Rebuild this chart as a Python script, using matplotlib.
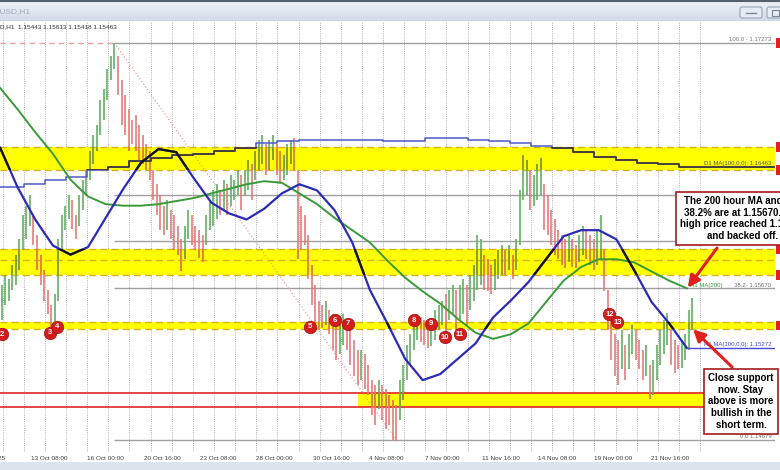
import numpy as np
import matplotlib
matplotlib.use("Agg")
import matplotlib.pyplot as plt
from matplotlib.collections import LineCollection
from matplotlib.path import Path
from matplotlib.patches import FancyBboxPatch

plt.rcParams['font.family'] = ['Liberation Sans', 'DejaVu Sans']

# ---- data (EURUSD H1) ----
# 4-hour blocks of H1 bars: high / low
highs = [1.1569, 1.1576, 1.1573, 1.1582, 1.1589, 1.1599, 1.1615, 1.1621, 1.1628, 1.1615,
         1.1602, 1.1589, 1.1579, 1.1566, 1.1556, 1.1563, 1.1599, 1.1615, 1.1621, 1.1628,
         1.1625, 1.1615, 1.1628, 1.1638, 1.1644, 1.1657, 1.1667, 1.1674, 1.1690, 1.1697,
         1.1710, 1.1719, 1.1727, 1.1719, 1.1703, 1.1693, 1.1684, 1.1677, 1.1680, 1.1674,
         1.1667, 1.1661, 1.1657, 1.1644, 1.1635, 1.1628, 1.1621, 1.1625, 1.1618, 1.1615,
         1.1608, 1.1599, 1.1608, 1.1618, 1.1615, 1.1608, 1.1605, 1.1602, 1.1615, 1.1625,
         1.1631, 1.1635, 1.1631, 1.1638, 1.1635, 1.1641, 1.1638, 1.1644, 1.1641, 1.1644,
         1.1651, 1.1648, 1.1657, 1.1664, 1.1667, 1.1661, 1.1664, 1.1667, 1.1661, 1.1657,
         1.1654, 1.1661, 1.1664, 1.1665, 1.1644, 1.1621, 1.1615, 1.1602, 1.1582, 1.1569,
         1.1559, 1.1556, 1.1559, 1.1553, 1.1550, 1.1546, 1.1543, 1.1550, 1.1546, 1.1540,
         1.1533, 1.1527, 1.1527, 1.1524, 1.1517, 1.1507, 1.1504, 1.1507, 1.1504, 1.1501,
         1.1497, 1.1494, 1.1491, 1.1507, 1.1517, 1.1530, 1.1537, 1.1546, 1.1550, 1.1548,
         1.1546, 1.1543, 1.1546, 1.1553, 1.1556, 1.1559, 1.1563, 1.1566, 1.1569, 1.1566,
         1.1569, 1.1573, 1.1569, 1.1576, 1.1582, 1.1602, 1.1599, 1.1589, 1.1586, 1.1582,
         1.1586, 1.1592, 1.1595, 1.1592, 1.1595, 1.1589, 1.1599, 1.1631, 1.1654, 1.1651,
         1.1644, 1.1641, 1.1648, 1.1652, 1.1635, 1.1628, 1.1618, 1.1612, 1.1605, 1.1602,
         1.1599, 1.1602, 1.1599, 1.1595, 1.1602, 1.1608, 1.1605, 1.1602, 1.1599, 1.1605,
         1.1615, 1.1592, 1.1566, 1.1546, 1.1537, 1.1533, 1.1540, 1.1530, 1.1537, 1.1543,
         1.1540, 1.1533, 1.1527, 1.1530, 1.1517, 1.1520, 1.1530, 1.1540, 1.1546, 1.1551,
         1.1540, 1.1533, 1.1530, 1.1533, 1.1537, 1.1553, 1.1561]
lows = [1.1546, 1.1556, 1.1559, 1.1566, 1.1569, 1.1579, 1.1592, 1.1599, 1.1608, 1.1595,
        1.1579, 1.1569, 1.1559, 1.1550, 1.1539, 1.1543, 1.1559, 1.1592, 1.1605, 1.1612,
        1.1606, 1.1599, 1.1608, 1.1618, 1.1628, 1.1638, 1.1648, 1.1657, 1.1667, 1.1677,
        1.1690, 1.1703, 1.1710, 1.1693, 1.1674, 1.1667, 1.1657, 1.1661, 1.1657, 1.1651,
        1.1648, 1.1644, 1.1638, 1.1625, 1.1615, 1.1605, 1.1602, 1.1605, 1.1599, 1.1592,
        1.1589, 1.1578, 1.1586, 1.1599, 1.1595, 1.1592, 1.1587, 1.1584, 1.1595, 1.1605,
        1.1608, 1.1612, 1.1615, 1.1618, 1.1615, 1.1621, 1.1625, 1.1628, 1.1618, 1.1628,
        1.1631, 1.1625, 1.1638, 1.1644, 1.1648, 1.1641, 1.1644, 1.1651, 1.1641, 1.1635,
        1.1638, 1.1641, 1.1648, 1.1644, 1.1586, 1.1592, 1.1595, 1.1573, 1.1556, 1.1543,
        1.1540, 1.1541, 1.1543, 1.1537, 1.1527, 1.1520, 1.1524, 1.1530, 1.1527, 1.1517,
        1.1510, 1.1504, 1.1507, 1.1501, 1.1497, 1.1484, 1.1478, 1.1488, 1.1481, 1.1475,
        1.1478, 1.1468, 1.1467, 1.1481, 1.1494, 1.1507, 1.1517, 1.1527, 1.1533, 1.1532,
        1.1530, 1.1528, 1.1529, 1.1533, 1.1540, 1.1543, 1.1537, 1.1546, 1.1550, 1.1540,
        1.1546, 1.1550, 1.1543, 1.1553, 1.1559, 1.1566, 1.1569, 1.1566, 1.1565, 1.1563,
        1.1566, 1.1573, 1.1576, 1.1576, 1.1579, 1.1573, 1.1579, 1.1595, 1.1625, 1.1628,
        1.1618, 1.1621, 1.1625, 1.1628, 1.1605, 1.1602, 1.1595, 1.1589, 1.1586, 1.1582,
        1.1580, 1.1584, 1.1581, 1.1580, 1.1584, 1.1589, 1.1586, 1.1582, 1.1579, 1.1582,
        1.1586, 1.1565, 1.1540, 1.1520, 1.1510, 1.1504, 1.1514, 1.1507, 1.1514, 1.1524,
        1.1520, 1.1514, 1.1507, 1.1510, 1.1495, 1.1497, 1.1507, 1.1517, 1.1524, 1.1530,
        1.1517, 1.1512, 1.1514, 1.1515, 1.1520, 1.1527, 1.1540]

# moving averages sampled every 20 H1 bars
ma200_h1 = [1.1698, 1.1684, 1.1669, 1.1655, 1.1638, 1.1627, 1.1622, 1.1621, 1.1621, 1.1622,
            1.1624, 1.1626, 1.1629, 1.1632, 1.1635, 1.1637, 1.1636, 1.1629, 1.1622, 1.1613,
            1.1605, 1.1597, 1.1585, 1.1574, 1.1565, 1.1557, 1.1547, 1.1538, 1.1534, 1.1537,
            1.1544, 1.1558, 1.1572, 1.1581, 1.1586, 1.1586, 1.1584, 1.1578, 1.1572, 1.1567]
ma100_h1 = [1.1659, 1.1633, 1.1612, 1.1595, 1.1589, 1.1594, 1.1613, 1.1632, 1.1649, 1.1658,
            1.1656, 1.1639, 1.1623, 1.1616, 1.1612, 1.1619, 1.1629, 1.1635, 1.1631, 1.1618,
            1.1597, 1.1566, 1.1544, 1.1521, 1.1507, 1.1511, 1.1521, 1.1531, 1.1548, 1.1559,
            1.1571, 1.1586, 1.1601, 1.1605, 1.1605, 1.1599, 1.1579, 1.1558, 1.1544, 1.1528]
# daily MA(100), one value per trading day
ma100_d1 = [1.1633, 1.1635, 1.1638, 1.1640, 1.1644, 1.16463, 1.1650, 1.1652, 1.1654, 1.1655,
            1.1657, 1.1659, 1.1662, 1.1663, 1.1664, 1.1664, 1.1664, 1.1664, 1.1663, 1.1663,
            1.1665, 1.1665, 1.1664, 1.1663, 1.1662, 1.1660, 1.1659, 1.1656, 1.1653, 1.1651,
            1.1649, 1.1648, 1.16463, 1.16463]

# yellow zones (price bottom / top, first bar)
zone_lows = [1.16443, 1.15757, 1.15402, 1.14895]
zone_highs = [1.16594, 1.15927, 1.15452, 1.14986]
zone_start = [0, 0, 0, 406]

fib_low, fib_high = 1.14679, 1.17273
fib_levels = [0.0, 38.2, 50.0, 61.8, 100.0]

marker_bars = [2, 57, 65, 352, 380, 395, 470, 489, 505, 522, 692, 701]
marker_prices = [1.1537, 1.1538, 1.1542, 1.1542, 1.1546, 1.1544, 1.1546, 1.1544,
                 1.1535, 1.1537, 1.1550, 1.1545]
marker_labels = ['2', '3', '4', '5', '6', '7', '8', '9', '10', '11', '12', '13']

date_labels = ['8 Oct 2025', '13 Oct 08:00', '16 Oct 00:00', '20 Oct 16:00', '23 Oct 08:00',
               '28 Oct 00:00', '30 Oct 16:00', '4 Nov 08:00', '7 Nov 00:00', '11 Nov 16:00',
               '14 Nov 08:00', '19 Nov 00:00', '21 Nov 16:00']

# ---- layout ----
W, H = 780, 470
PX_PER_BAR = 0.8806
PRICE_PER_PX = 0.00006534
fig = plt.figure(figsize=(7.8, 4.7), dpi=100)
fig.patch.set_facecolor('white')


def fx(px):
    return px / W


def fy(py):
    return 1 - py / H


top, bottom, right = 21, 452, 775
ax = fig.add_axes([0, fy(bottom), fx(right), (bottom - top) / H])
xmax = right / PX_PER_BAR
ymin = fib_low - (bottom - 440) * PRICE_PER_PX
ymax = fib_low + (440 - top) * PRICE_PER_PX
ax.set_xlim(0, xmax)
ax.set_ylim(ymin, ymax)
ax.set_axis_off()

# daily separators
day_bars = 3 + 24 * np.arange(34)
ax.vlines(day_bars, ymin, ymax, colors='#9a9a9a', linestyles=(0, (1, 1.6)), lw=0.6, zorder=0.5)

# yellow zones
gold = '#d6b21e'
for lo, hi, x0 in zip(zone_lows, zone_highs, zone_start):
    ax.fill_between([x0, xmax], lo, hi, color='#ffff00', lw=0, zorder=1)
for lo, hi in zip(zone_lows[:3], zone_highs[:3]):
    ax.hlines([lo, hi], 0, xmax, colors=gold, linestyles=(0, (5, 3)), lw=1.0, zorder=1.2)
ax.hlines((zone_lows[1] + zone_highs[1]) / 2 + 0.00012, 0, xmax, colors=gold,
          linestyles=(0, (5, 3)), lw=1.0, zorder=1.2)
ax.hlines([zone_lows[3], zone_highs[3]], 0, xmax, colors='#e02424', lw=1.2, zorder=1.3)


def rect(x0, x1, y0, y1):
    return Path([(x0, y0), (x1, y0), (x1, y1), (x0, y1), (x0, y0)],
                [Path.MOVETO, Path.LINETO, Path.LINETO, Path.LINETO, Path.CLOSEPOLY])


zone_path = Path.make_compound_path(*[rect(x0, xmax, lo, hi)
                                      for lo, hi, x0 in zip(zone_lows, zone_highs, zone_start)])

# fibonacci retracement
fib_start, fib_end = 130, 450
for lvl in fib_levels:
    ax.hlines(fib_low + lvl / 100 * (fib_high - fib_low), fib_start, xmax,
              colors='#a0a0a0', lw=1.0, zorder=1.5)
ax.plot([fib_start, fib_end], [fib_high, fib_low], color='#e89090', lw=0.8,
        linestyle=(0, (1, 2)), zorder=1.5)
ax.hlines(fib_high, 0, fib_start, colors='#e8a0a0', linestyles=(0, (4, 3)), lw=1.0, zorder=1.5)

# price bars
hi_a, lo_a = np.array(highs), np.array(lows)
xb = np.arange(len(hi_a)) * 4 + 2
mid = (hi_a + lo_a) / 2
up = np.r_[True, mid[1:] >= mid[:-1]]
segs = [[(x, l), (x, h)] for x, l, h in zip(xb, lo_a, hi_a)]
ax.add_collection(LineCollection(segs, colors=np.where(up, '#5aad5a', '#e47474'),
                                 lw=1.15, zorder=2))
over = LineCollection(segs, colors=np.where(up, '#8c9a2c', '#e0843a'), lw=1.15, zorder=2.1)
ax.add_collection(over)
over.set_clip_path(zone_path, ax.transData)

# moving averages
ma_bars = np.arange(len(ma200_h1)) * 20
ax.plot(ma_bars, ma200_h1, color='#3a9a3a', lw=1.4, zorder=3)
ax.plot(ma_bars, ma100_h1, color='#2b2bb8', lw=1.6, zorder=3)
dark, = ax.plot(ma_bars, ma100_h1, color='#151515', lw=1.6, zorder=3.1)
dark.set_clip_path(zone_path, ax.transData)
ax.hlines(ma100_h1[-1], ma_bars[-1], xmax, colors='#4a4ad8', lw=1.0, zorder=3)

d1_x = np.r_[0, day_bars[1:], xmax]
d1_y = np.r_[ma100_d1, ma100_d1[-1]]
ax.step(d1_x, d1_y, where='post', color='#4d58c8', lw=1.1, zorder=2.8)
d1_dark, = ax.step(d1_x, d1_y, where='post', color='#3b3220', lw=1.1, zorder=2.9)
d1_dark.set_clip_path(zone_path, ax.transData)

# numbered touches
ax.scatter(marker_bars, marker_prices, s=80, color='#d41c1c', edgecolors='#9a1010',
           linewidths=0.5, zorder=5, clip_on=False)
for b, p, t in zip(marker_bars, marker_prices, marker_labels):
    ax.text(b, p, t, color='white', fontsize=5.5, fontweight='bold', ha='center',
            va='center', zorder=6)

# level labels
lab = dict(fontsize=4.3, ha='right', va='bottom', zorder=4)
ax.text(876, fib_high + 0.00004, '100.0 - 1.17273', color='#707070', **lab)
ax.text(876, fib_low + 0.382 * (fib_high - fib_low) + 0.00004, '38.2- 1.15670',
        color='#707070', **lab)
ax.text(876, fib_low + 0.00004, '0.0 1.14679', color='#707070', **lab)
ax.text(876, ma100_d1[-1] + 0.00004, 'D1 MA(100,0,0): 1.16463', color='#555555', **lab)
ax.text(876, ma100_h1[-1] + 0.00004, 'H1 MA(100,0,0): 1.15272', color='#4a4ad8', **lab)
ax.text(820, ma200_h1[-1] + 0.00004, 'H1 MA(200)', color='#3a9a3a', fontsize=4.3,
        ha='right', va='bottom', zorder=4)

# time axis labels
for i, t in enumerate(date_labels):
    ax.text(35 + 64 * (i - 1), -0.014, t, transform=ax.get_xaxis_transform(),
            fontsize=4.6, color='#404040', ha='left', va='center')

# info line
fig.text(fx(0), fy(27), 'D,H1  1.15443 1.15613 1.15418 1.15463', fontsize=4.6,
         color='#303030', ha='left', va='center')

# price scale strip with level tags
axs = fig.add_axes([fx(right), fy(bottom), fx(W - right), (bottom - top) / H])
axs.set_ylim(ymin, ymax)
axs.set_xlim(0, 1)
axs.set_axis_off()
tags = [fib_high, zone_highs[0], zone_lows[0], zone_highs[1], zone_lows[1],
        (zone_lows[2] + zone_highs[2]) / 2]
axs.barh(tags, 1, height=0.0006, left=0.25, color='#e02020')

# window title bar
tb = fig.add_axes([0, fy(21), 1, 21 / H])
grad = np.linspace(0, 1, 50)[:, None]
tb.imshow(grad, aspect='auto', cmap=matplotlib.colors.LinearSegmentedColormap.from_list(
    'tb', ['#eef2f7', '#d2dce7']), extent=[0, W, 21, 0])
tb.set_xlim(0, W)
tb.set_ylim(21, 0)
tb.set_axis_off()
tb.axhline(0.6, color='#56606c', lw=1.5)
tb.axhline(20.5, color='#b4bfcb', lw=1)
tb.text(-18, 12, 'EURUSD,H1', fontsize=6, color='#a3b0bf', va='center')
for x0, w in [(740, 22), (767, 18)]:
    tb.add_patch(FancyBboxPatch((x0, 7), w, 11, boxstyle='round,pad=0,rounding_size=2',
                                fc='#e6ecf3', ec='#98a4b2', lw=0.8))
tb.plot([746, 756], [13, 13], color='#7a8694', lw=1)
tb.add_patch(FancyBboxPatch((772, 10), 7, 6, boxstyle='square,pad=0', fc='none',
                            ec='#7a8694', lw=0.8))

# bottom strip
bs = fig.add_axes([0, 0, 1, 8 / H])
bs.set_facecolor('#dbe3ec')
bs.set_xticks([])
bs.set_yticks([])
for s in bs.spines.values():
    s.set_visible(False)

# commentary boxes and arrows
box = dict(boxstyle='square,pad=0.45', fc='white', ec='#a31d1d', lw=1.2)
fig.text(fx(742.5), fy(218.5),
         'The 200 hour MA and the\n38.2% are at 1.15670. The\nhigh price reached 1.15677\nand backed off.',
         ha='center', va='center', fontsize=7, fontweight='bold', bbox=box, zorder=10)
fig.text(fx(741), fy(401.5),
         'Close support\nnow. Stay\nabove is more\nbullish in the\nshort term.',
         ha='center', va='center', fontsize=7, fontweight='bold', bbox=box, zorder=10)
arrow = dict(arrowstyle='-|>,head_length=0.7,head_width=0.35', color='#e0201c', lw=2.2,
             shrinkA=0, shrinkB=0)
ax.annotate('', xy=(781, ma200_h1[-1] + 0.00005), xytext=(fx(717), fy(248)),
            textcoords='figure fraction', arrowprops=arrow, annotation_clip=False, zorder=9)
ax.annotate('', xy=(787, zone_lows[2]), xytext=(fx(732), fy(367)),
            textcoords='figure fraction', arrowprops=arrow, annotation_clip=False, zorder=9)

fig.savefig('out.png', dpi=100)
